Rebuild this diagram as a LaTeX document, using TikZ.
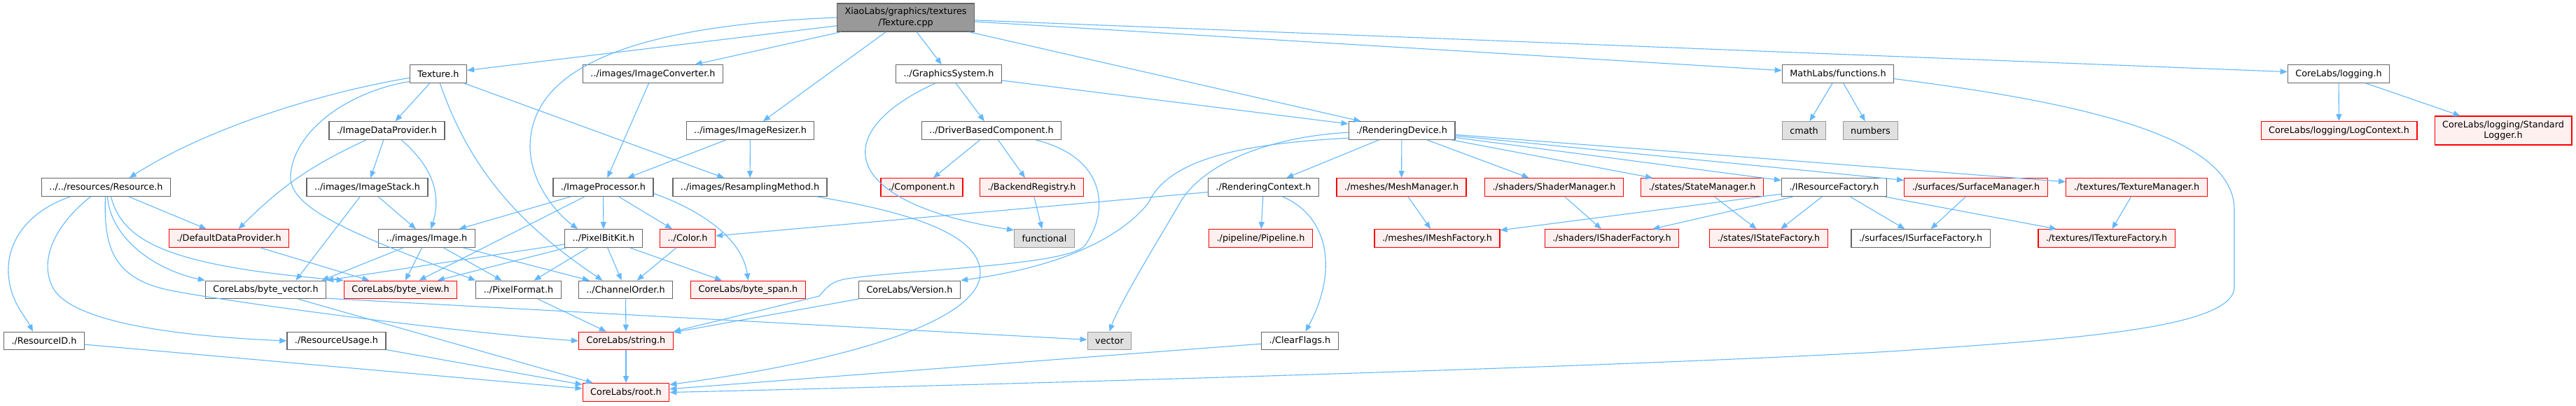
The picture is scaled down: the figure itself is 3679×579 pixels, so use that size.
\documentclass[tikz,border=0pt]{standalone}
\usepackage{fontspec}
\setmainfont{DejaVu Sans}
\usepackage{xcolor}
\usepackage{tikz}
\usetikzlibrary{arrows.meta}

\definecolor{edgeblue}{HTML}{63B8FF}
\definecolor{redline}{HTML}{FF0000}
\definecolor{redfill}{HTML}{FFF0F0}
\definecolor{grayline}{HTML}{666666}
\definecolor{sysline}{HTML}{999999}
\definecolor{sysfill}{HTML}{E0E0E0}
\definecolor{srcfill}{HTML}{999999}

\begin{document}
\begin{tikzpicture}[
    x=1pt, y=-1pt,
    font=\fontsize{12.8}{15.5}\selectfont,
    incl/.style={rectangle, draw=grayline, fill=white, line width=1.3pt, inner xsep=11pt, inner ysep=0pt, minimum height=25.5pt},
    trunc/.style={incl, draw=redline, fill=redfill},
    syshdr/.style={incl, draw=sysline, fill=sysfill},
    srcfile/.style={incl, fill=srcfill, align=center, minimum height=40pt},
    arrow/.style={line width=1.1pt, draw=edgeblue, -{Triangle[length=10pt,width=8pt]}}
]
    \useasboundingbox (0,0) rectangle (3679,579);

    \node [srcfile] (cpp) at (1293.5,25) {XiaoLabs/graphics/textures\\/Texture.cpp};

    \node [incl] (texh) at (626,105.5) {Texture.h};
    \node [incl] (imgconv) at (932.5,105.5) {../images/ImageConverter.h};
    \node [incl] (gfxsys) at (1355,105.5) {../GraphicsSystem.h};
    \node [incl] (mathfn) at (2625,105.5) {MathLabs/functions.h};
    \node [incl] (logging) at (3340,105.5) {CoreLabs/logging.h};

    \node [incl] (imgdata) at (552.5,186.5) {./ImageDataProvider.h};
    \node [incl] (resizer) at (1071.5,186.5) {../images/ImageResizer.h};
    \node [incl] (driver) at (1416,186.5) {../DriverBasedComponent.h};
    \node [incl] (rdevice) at (2002,186.5) {./RenderingDevice.h};
    \node [syshdr] (cmath) at (2576.5,186.5) {cmath};
    \node [syshdr] (numbers) at (2671.5,186.5) {numbers};
    \node [trunc] (logctx) at (3340.5,186.5) {CoreLabs/logging/LogContext.h};
    \node [trunc, align=center, minimum height=41pt] (stdlogger) at (3575,186.5) {CoreLabs/logging/Standard\\Logger.h};

    \node [incl] (resource) at (151.5,267.5) {../../resources/Resource.h};
    \node [incl] (imgstack) at (524.5,267.5) {../images/ImageStack.h};
    \node [incl] (improc) at (861.5,267.5) {./ImageProcessor.h};
    \node [incl] (resampling) at (1071,267.5) {../images/ResamplingMethod.h};
    \node [trunc] (component) at (1316.5,267.5) {./Component.h};
    \node [trunc] (backend) at (1473.5,267.5) {./BackendRegistry.h};
    \node [incl] (rctx) at (1804.5,267.5) {./RenderingContext.h};
    \node [trunc] (meshmgr) at (2001.5,267.5) {./meshes/MeshManager.h};
    \node [trunc] (shadermgr) at (2219.5,267.5) {./shaders/ShaderManager.h};
    \node [trunc] (statemgr) at (2431,267.5) {./states/StateManager.h};
    \node [incl] (iresfac) at (2619.5,267.5) {./IResourceFactory.h};
    \node [trunc] (surfmgr) at (2822,267.5) {./surfaces/SurfaceManager.h};
    \node [trunc] (texmgr) at (3051.5,267.5) {./textures/TextureManager.h};

    \node [trunc] (defprov) at (327,340.5) {./DefaultDataProvider.h};
    \node [incl] (image) at (609.5,340.5) {../images/Image.h};
    \node [incl] (pixbit) at (862,340.5) {../PixelBitKit.h};
    \node [trunc] (color) at (982,340.5) {../Color.h};
    \node [syshdr] (functional) at (1491.5,340.5) {functional};
    \node [trunc] (pipeline) at (1800.5,340.5) {./pipeline/Pipeline.h};
    \node [trunc] (imeshfac) at (2052.5,340.5) {./meshes/IMeshFactory.h};
    \node [trunc] (ishaderfac) at (2302,340.5) {./shaders/IShaderFactory.h};
    \node [trunc] (istatefac) at (2526,340.5) {./states/IStateFactory.h};
    \node [incl] (isurffac) at (2743,340.5) {./surfaces/ISurfaceFactory.h};
    \node [trunc] (itexfac) at (3008.5,340.5) {./textures/ITextureFactory.h};

    \node [incl] (bytevec) at (379.5,414) {CoreLabs/byte\_vector.h};
    \node [trunc] (byteview) at (572,414) {CoreLabs/byte\_view.h};
    \node [incl] (pixfmt) at (740.5,414) {../PixelFormat.h};
    \node [incl] (chorder) at (893.5,414) {../ChannelOrder.h};
    \node [trunc] (bytespan) at (1068.5,414) {CoreLabs/byte\_span.h};
    \node [incl] (version) at (1299,414) {CoreLabs/Version.h};

    \node [incl] (resid) at (63,487) {./ResourceID.h};
    \node [incl] (resusage) at (480.5,487) {./ResourceUsage.h};
    \node [trunc] (string) at (894,487) {CoreLabs/string.h};
    \node [syshdr] (vector) at (1584.5,487) {vector};
    \node [incl] (clearflags) at (1856.5,487) {./ClearFlags.h};

    \node [trunc] (root) at (894,560.5) {CoreLabs/root.h};

    \draw [arrow] (cpp) -- (texh);
    \draw [arrow] (cpp) -- (imgconv);
    \draw [arrow] (cpp) -- (resizer);
    \draw [arrow] (cpp) -- (gfxsys);
    \draw [arrow] (cpp) -- (rdevice);
    \draw [arrow] (cpp) -- (mathfn);
    \draw [arrow] (cpp) -- (logging);
    \draw [arrow] (cpp.west) .. controls (950,35) and (760,80) .. (757,207) .. controls (756,260) and (795,305) .. (pixbit.160);

    \draw [arrow] (texh.188) .. controls (470,130) and (300,180) .. (resource.22);
    \draw [arrow] (texh.195) .. controls (500,130) and (420,185) .. (415,250) .. controls (410,300) and (520,340) .. (pixfmt.north west);
    \draw [arrow] (texh) -- (imgdata);
    \draw [arrow] (texh.-80) .. controls (670,240) and (740,320) .. ([xshift=-33]chorder.north);
    \draw [arrow] (texh) -- (resampling);

    \draw [arrow] (imgconv) -- (improc);
    \draw [arrow] (resizer) -- (improc);
    \draw [arrow] (resizer) -- (resampling);

    \draw [arrow] (imgdata) to[bend right=10] (defprov);
    \draw [arrow] (imgdata) -- (imgstack);
    \draw [arrow] (imgdata.-33) .. controls (620,240) and (630,280) .. ([xshift=6]image.north);
    \draw [arrow] (imgstack) -- ([xshift=43]bytevec.north);
    \draw [arrow] (imgstack) -- (image);

    \draw [arrow] (improc) -- (image);
    \draw [arrow] (improc) -- (byteview);
    \draw [arrow] (improc) -- (pixbit);
    \draw [arrow] (improc) -- (color);
    \draw [arrow] (improc.-7) .. controls (1000,300) and (1060,340) .. (bytespan.north);
    \draw [arrow] (resampling.-8) .. controls (1280,300) and (1400,330) .. (1400,390) .. controls (1400,450) and (1250,510) .. (root.10);

    \draw [arrow] (gfxsys.-145) .. controls (1180,190) and (1200,290) .. (functional.165);
    \draw [arrow] (gfxsys) -- (driver);
    \draw [arrow] (gfxsys) -- (rdevice);
    \draw [arrow] (driver) -- (component);
    \draw [arrow] (driver) -- (backend);
    \draw [arrow] (driver.-12) .. controls (1580,225) and (1585,300) .. (1550,350) .. controls (1530,379) and (1300,385) .. (1211,398) .. controls (1185,402) and (1180,412) .. (1170,423) -- (string.north east);
    \draw [arrow] (backend) -- (functional);

    \draw [arrow] (rctx) -- (color);
    \draw [arrow] (rctx) -- (pipeline);
    \draw [arrow] ([xshift=27]rctx.south) .. controls (1900,310) and (1910,390) .. ([xshift=8]clearflags.north);

    \draw [arrow] (rdevice) -- (rctx);
    \draw [arrow] (rdevice) -- (meshmgr);
    \draw [arrow] (rdevice) -- (shadermgr);
    \draw [arrow] (rdevice) -- (statemgr);
    \draw [arrow] (rdevice) -- (iresfac);
    \draw [arrow] (rdevice) -- (surfmgr);
    \draw [arrow] (rdevice) -- (texmgr);
    \draw [arrow] (rdevice.182) .. controls (1820,195) and (1720,230) .. (1685,290) .. controls (1667,322) and (1600,430) .. (vector.north);
    \draw [arrow] (rdevice.188) .. controls (1780,205) and (1670,225) .. (1640,290) .. controls (1620,315) and (1560,375) .. (version.north east);

    \draw [arrow] (meshmgr) -- (imeshfac);
    \draw [arrow] (shadermgr) -- (ishaderfac);
    \draw [arrow] (statemgr) -- (istatefac);
    \draw [arrow] (iresfac) -- (imeshfac);
    \draw [arrow] (iresfac) -- (ishaderfac);
    \draw [arrow] (iresfac) -- (istatefac);
    \draw [arrow] (iresfac) -- (isurffac);
    \draw [arrow] (iresfac) -- (itexfac);
    \draw [arrow] (surfmgr) -- (isurffac);
    \draw [arrow] (texmgr) -- (itexfac);

    \draw [arrow] (mathfn) -- (cmath);
    \draw [arrow] (mathfn) -- (numbers);
    \draw [arrow] (mathfn.-5) .. controls (3000,150) and (3191,200) .. (3191,300) -- (3191,410) .. controls (3191,470) and (2950,485) .. (2700,502) .. controls (2300,525) and (1400,550) .. (root.east);
    \draw [arrow] (logging) -- (logctx);
    \draw [arrow] (logging) -- (stdlogger);

    \draw [arrow] ([xshift=-51]resource.south) .. controls (45,300) and (10,340) .. (12,390) .. controls (14,430) and (35,450) .. ([xshift=-16]resid.north);
    \draw [arrow] ([xshift=-22]resource.south) .. controls (80,320) and (55,370) .. (75,410) .. controls (100,460) and (250,480) .. (resusage.west);
    \draw [arrow] ([xshift=-1]resource.south) .. controls (148,350) and (160,395) .. (235,413) .. controls (300,428) and (650,475) .. (string.west);
    \draw [arrow] ([xshift=2]resource.south) .. controls (158,340) and (220,385) .. (bytevec.north west);
    \draw [arrow] ([xshift=7]resource.south) .. controls (175,345) and (240,380) .. (byteview.north west);
    \draw [arrow] (resource) -- (defprov);

    \draw [arrow] (defprov) -- (byteview);
    \draw [arrow] (image) -- ([xshift=80]bytevec.north);
    \draw [arrow] (image) -- (byteview);
    \draw [arrow] (image) -- (pixfmt);
    \draw [arrow] (image) -- (chorder);
    \draw [arrow] (pixbit) -- (bytevec.north east);
    \draw [arrow] (pixbit) -- (byteview);
    \draw [arrow] (pixbit) -- (pixfmt);
    \draw [arrow] (pixbit) -- (chorder);
    \draw [arrow] (pixbit) -- (bytespan);
    \draw [arrow] (color) -- (chorder);

    \draw [arrow] (bytevec) -- (root);
    \draw [arrow] (bytevec.-8) -- (vector);
    \draw [arrow] (pixfmt) -- (string);
    \draw [arrow] (chorder) -- (string);
    \draw [arrow] (version) -- (string);
    \draw [arrow] (string) -- (root);
    \draw [arrow] (resid) -- (root);
    \draw [arrow] (resusage) -- (root);
    \draw [arrow] (clearflags) -- (root);
\end{tikzpicture}
\end{document}
